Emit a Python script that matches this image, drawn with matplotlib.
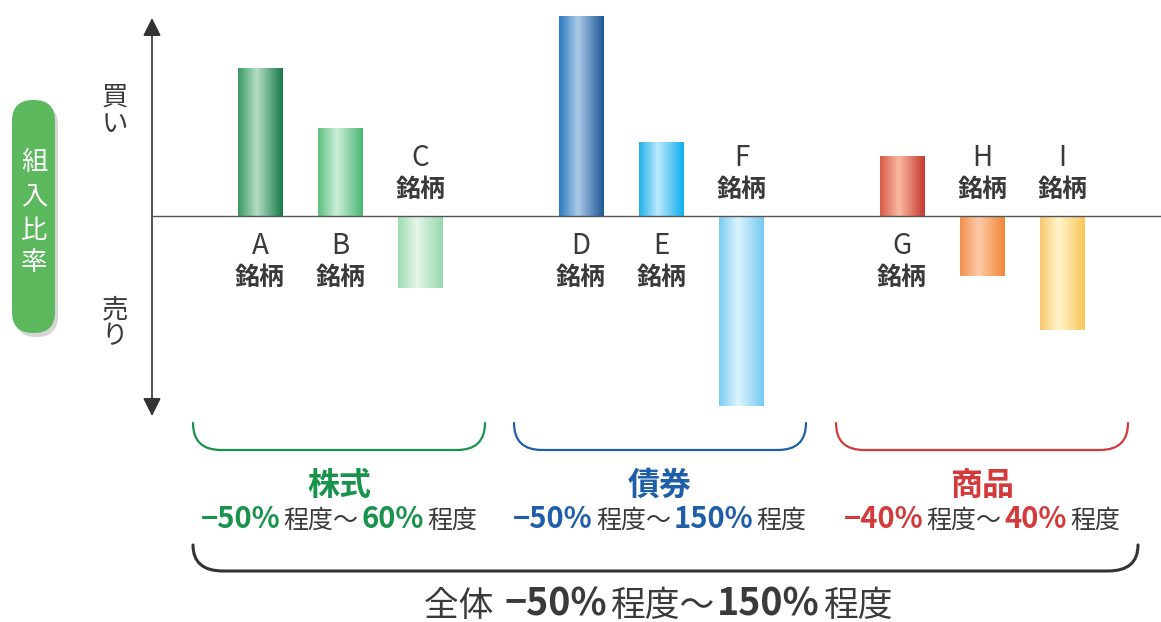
import numpy as np
import matplotlib.pyplot as plt
from matplotlib.colors import to_rgb
from matplotlib.patches import FancyBboxPatch, PathPatch
from matplotlib.path import Path

plt.rcParams['font.family'] = ['Noto Sans CJK JP', 'DejaVu Sans']

# data: buy (+) / sell (-) weight per stock
stocks = ['A', 'B', 'C', 'D', 'E', 'F', 'G', 'H', 'I']
slots = [0, 1, 2, 4, 5, 6, 8, 9, 10]
weights = [74, 44, -36, 100, 37, -95, 30, -30, -57]
bar_colors = [
    ('#3a9a62', '#b4dec4', '#17784a'),
    ('#5cc07e', '#cdeed8', '#48b673'),
    ('#9edcb0', '#e4f6ea', '#98d8ac'),
    ('#2a78c0', '#aecbea', '#1d5896'),
    ('#22b0ec', '#bdeafb', '#0eaeee'),
    ('#7accf2', '#def4fd', '#74caf2'),
    ('#d85a48', '#f9baa2', '#c6382e'),
    ('#f09050', '#fdcaaa', '#f08636'),
    ('#f8c870', '#fff5cc', '#f8c658'),
]
groups = ['株式', '債券', '商品']
group_colors = ['#17934b', '#1f5ea8', '#d43a3a']
group_low = [-50, -50, -40]
group_high = [60, 150, 40]
total_low, total_high = -50, 150

gray = '#3a3a3a'

fig = plt.figure(figsize=(11.61, 6.22), dpi=100)

# overlay in pixel units for the decorations
ov = fig.add_axes([0, 0, 1, 1])
ov.set_xlim(0, 1161)
ov.set_ylim(622, 0)
ov.axis('off')

ax = fig.add_axes([152 / 1161, (622 - 420) / 622, 1009 / 1161, 410 / 622])
ax.patch.set_alpha(0)
ax.axis('off')


def gradient(cols, n=128):
    stops = [0, 0.42, 1]
    rgb = np.array([to_rgb(c) for c in cols])
    t = np.linspace(0, 1, n)
    g = np.stack([np.interp(t, stops, rgb[:, k]) for k in range(3)], axis=-1)
    return g[np.newaxis, :, :]


bars = ax.bar(slots, weights, width=0.56, color='none', edgecolor='none')
for rect, cols in zip(bars, bar_colors):
    x0, y0 = rect.get_x(), rect.get_y()
    w, h = rect.get_width(), rect.get_height()
    im = ax.imshow(gradient(cols), extent=(x0, x0 + w, y0, y0 + h),
                   aspect='auto', interpolation='bicubic', zorder=2)
    im.set_clip_path(rect)

ax.set_xlim(-1.3458, 11.2274)
ax.set_ylim(-102, 103)
ax.axhline(0, color='#555555', lw=1.0, zorder=3)

for s, v, lab in zip(slots, weights, stocks):
    offs = (-30, -62) if v > 0 else (58, 26)
    ax.annotate(lab, (s, 0), xytext=(0, offs[0]), textcoords='offset pixels',
                ha='center', va='center', fontsize=20, color=gray)
    ax.annotate('銘柄', (s, 0), xytext=(0, offs[1]), textcoords='offset pixels',
                ha='center', va='center', fontsize=18, fontweight='bold', color=gray)

# vertical axis with arrows
ov.annotate('', xy=(152, 18), xytext=(152, 416),
            arrowprops=dict(arrowstyle='<|-|>,head_length=1.1,head_width=0.55',
                            color='#333333', lw=1.2, shrinkA=0, shrinkB=0))
for ch, y in zip('買い', [97, 124]):
    ov.text(115, y, ch, ha='center', va='center', fontsize=19, color=gray)
for ch, y in zip('売り', [310, 337]):
    ov.text(115, y, ch, ha='center', va='center', fontsize=19, color=gray)

# green pill
ov.add_patch(FancyBboxPatch((15, 104), 43, 233, boxstyle='round,pad=0,rounding_size=21',
                            fc='#888888', ec='none', alpha=0.35))
ov.add_patch(FancyBboxPatch((12, 100), 43, 233, boxstyle='round,pad=0,rounding_size=21',
                            fc='#5cb85c', ec='none'))
for ch, y in zip('組入比率', [163, 197, 230, 263]):
    ov.text(34, y, ch, ha='center', va='center', fontsize=19, color='white')


def bracket(x0, x1, ytop, ybot, r, color, lw):
    verts = [(x0, ytop), (x0, ybot), (x0 + r, ybot), (x1 - r, ybot),
             (x1, ybot), (x1, ytop)]
    codes = [Path.MOVETO, Path.CURVE3, Path.CURVE3, Path.LINETO,
             Path.CURVE3, Path.CURVE3]
    ov.add_patch(PathPatch(Path(verts, codes), fc='none', ec=color, lw=lw,
                           capstyle='round'))


renderer = fig.canvas.get_renderer()


def rich(cx, y, parts, gap=3):
    texts = [ov.text(0, y, s, color=c, fontsize=fs, fontweight=fw,
                     ha='left', va='baseline') for s, c, fs, fw in parts]
    widths = [t.get_window_extent(renderer).width for t in texts]
    x = cx - (sum(widths) + gap * (len(widths) - 1)) / 2
    for t, w in zip(texts, widths):
        t.set_x(x)
        x += w + gap


spans = [(193, 485), (514, 806), (836, 1128)]
for (x0, x1), name, gc, lo, hi in zip(spans, groups, group_colors, group_low, group_high):
    bracket(x0, x1, 423, 450, 28, gc, 1.6)
    cx = (x0 + x1) / 2
    ov.text(cx, 495, name, ha='center', va='baseline', fontsize=23,
            fontweight='bold', color=gc)
    rich(cx, 528, [(f'−{abs(lo)}%', gc, 21, 'bold'),
                   ('程度〜', gray, 18, 'normal'),
                   (f'{hi}%', gc, 21, 'bold'),
                   ('程度', gray, 18, 'normal')])

bracket(193, 1138, 545, 571, 30, '#333333', 2.2)
rich(658, 616, [('全体 ', gray, 25, 'normal'),
                (f'−{abs(total_low)}%', gray, 27, 'bold'),
                ('程度〜', gray, 25, 'normal'),
                (f'{total_high}%', gray, 27, 'bold'),
                ('程度', gray, 25, 'normal')])

fig.savefig('out.png', dpi=100)
